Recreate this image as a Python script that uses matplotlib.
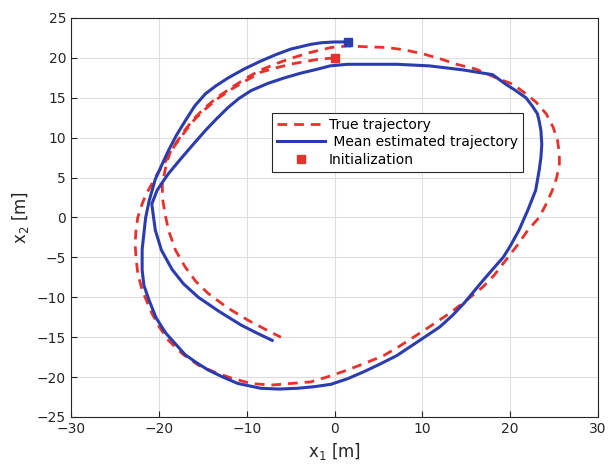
import matplotlib
matplotlib.use("Agg")
import matplotlib.pyplot as plt

# true trajectory (red dashed), starts at the red square
true_x = [0, -2, -4.6, -6.5, -8.4, -10, -11.7, -13.3, -14.7, -16, -17, -18.2, -19.2,
          -20.1, -20.8, -21.5, -21.9, -22.4, -22.6, -22.7, -22.6, -22.4, -21.9, -20.8,
          -19.9, -18.9, -17.3, -15.5, -13.6, -11.8, -9.5, -7.2, -5, -2.7, -0.6, 1.5,
          3.6, 5.6, 7.3, 9, 10.8, 13.1, 15, 16.9, 18.2, 19.6, 20.8, 22, 23.3, 24.1,
          24.8, 25.3, 25.6, 25.6, 25.4, 24.9, 24.1, 23, 21.8, 20.3, 18.4, 16.1,
          13.9, 12, 10.1, 8, 6, 3.5, 1.5, -0.4, -2.7, -4.5, -6.1, -8.4, -10, -11.7,
          -13.3, -14.7, -16, -17, -18, -18.8, -19.3, -19.6, -19.6, -19.3, -18.9,
          -18.1, -17, -15.8, -14.4, -12.2, -9.8, -7.2, -6.1]
true_y = [20, 19.8, 19.3, 18.8, 18.2, 17.2, 16.1, 14.9, 13.6, 12.2, 10.8, 9, 7.1,
          5.6, 4.2, 2.8, 1.7, 0, -1.6, -3.3, -5, -7, -9.1, -12,
          -13.8, -15.4, -17.1, -18.5, -19.4, -20.1, -20.8, -21, -20.8, -20.6, -19.9, -19.1,
          -18.2, -17.3, -16.2, -15, -13.7, -12, -10.4, -8.7, -7.2, -5.2, -3.5, -1.6, 0, 1.7,
          3.4, 5, 6.7, 8, 9.6, 11.3, 13, 14.4, 15.5, 16.7, 17.5, 18.6,
          19.2, 19.9, 20.5, 21, 21.3, 21.4, 21.5, 21.3, 20.7, 20.1, 19.5, 18.5, 17.5, 16.3,
          15.1, 13.8, 12.4, 11, 9.4, 8, 5.9, 4.2, 2.5, 0.5, -1.6,
          -4.1, -6.2, -8, -9.5, -11.3, -12.9, -14.4, -15]

# mean estimated trajectory (blue)
est_x = [1.5, 0, -1.5, -2.7, -5, -6.7, -8.4, -10.3, -12.1, -13.5, -14.7, -15.9, -17,
         -18, -18.9, -19.7, -20.4, -21.1, -21.5, -21.7, -21.9, -21.9, -21.7, -21.1,
         -20.3, -19.2, -17, -15.7, -14.4, -12.7, -11, -8.4, -6.3, -4.2, -2.3, -0.4,
         1.5, 3.4, 5.3, 7.1, 9.7, 12, 13.4, 14.7, 16.9, 18, 19.2, 20, 21, 22.0, 22.9,
         23.3, 23.5, 23.6, 23.5, 23.3, 23.1, 22.5, 21.8, 20.5, 19.5, 18, 16.3, 14.6,
         10.8, 7.1, 4, 1.5, -0.5, -1.9, -3.8, -5.7, -7.6, -9.5, -10.9, -12.1, -13.4,
         -14.7, -15.9, -17, -18, -18.9, -19.6, -20.2, -20.8, -20.6, -20.4, -19.7,
         -18.5, -17.2, -15.5, -13.1, -10.6, -8.8, -7.1]
est_y = [22, 22, 21.9, 21.7, 21.1, 20.4, 19.6, 18.6, 17.5, 16.5, 15.5, 14, 12.1,
         10.3, 8.4, 6.5, 4.8, 2.1, 0, -2, -4, -6.6, -8.5, -10.4,
         -12.6, -14.5, -17.2, -18.2, -19.1, -20, -20.8, -21.4, -21.5, -21.4, -21.2, -20.9,
         -20.2, -19.3, -18.3, -17.3, -15.4, -13.7, -12.3, -10.8, -7.9, -6.5, -5, -3.6, -1.6, 0.9, 3.4,
         5.9, 7.5, 9.2, 10.9, 12.1, 13, 14, 15, 16, 16.7, 17.9, 18.2, 18.5,
         19, 19.2, 19.2, 19.2, 19, 18.6, 18.1, 17.5, 16.8, 15.9, 14.9, 13.8, 12.4,
         10.9, 9.4, 8, 6.7, 5.5, 4.4, 3.4, 1.7, 0, -1.6, -4.1,
         -6.5, -8.3, -10, -11.8, -13.5, -14.5, -15.4]

red = '#e8312b'
blue = '#2b3caf'

fig = plt.figure(figsize=(6.09, 4.73), dpi=100)
ax = fig.add_axes([71/609, 1-417/473, 527/609, 399/473])

ax.plot(true_x, true_y, '--', color=red, lw=2, dashes=(3.5, 2.5),
        label='True trajectory', zorder=3)
ax.plot(est_x, est_y, '-', color=blue, lw=2.2, solid_joinstyle='round',
        label=' Mean estimated trajectory', zorder=4)
ax.plot(true_x[0], true_y[0], 's', color=red, ms=6, label='Initialization', zorder=5)
ax.plot(est_x[0], est_y[0], 's', color=blue, ms=6, zorder=5)

ax.set_xlim(-30, 30)
ax.set_ylim(-25, 25)
ax.set_xticks(range(-30, 31, 10))
ax.set_yticks(range(-25, 26, 5))
ax.grid(True, color='#dddddd', lw=0.8)
ax.set_axisbelow(True)
ax.tick_params(direction='in', labelsize=10, colors='#262626', length=4)
for s in ax.spines.values():
    s.set_color('#262626')
    s.set_linewidth(0.8)

ax.set_xlabel('x$_\\mathregular{1}$ [m]', fontsize=12, color='#262626')
ax.set_ylabel('x$_\\mathregular{2}$ [m]', fontsize=12, color='#262626')

leg = ax.legend(loc='upper left', bbox_to_anchor=(0.381, 0.762), fontsize=10,
                fancybox=False, framealpha=1, edgecolor='#262626',
                handlelength=3.5, handletextpad=0.25, borderpad=0.35,
                labelspacing=0.25, borderaxespad=0)
leg.get_frame().set_linewidth(0.8)

fig.savefig('out.png', dpi=100)
